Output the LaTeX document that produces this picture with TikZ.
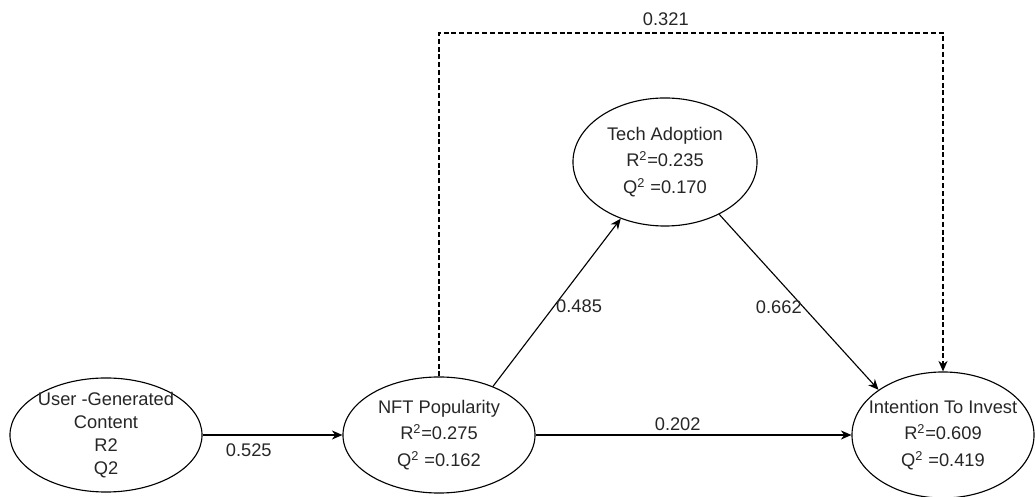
\documentclass[tikz,border=0pt]{standalone}
\usepackage{fontspec}
\setmainfont{Liberation Sans}
\usepackage{xcolor}
\usepackage{tikz}
\usetikzlibrary{arrows.meta, positioning, calc, shapes.geometric}

\begin{document}
\begin{tikzpicture}[
        x=0.025cm, y=-0.025cm,
        latent/.style={draw, ellipse, line width=0.8pt, inner sep=0pt},
        stat/.style={align=center, text=black!85, font=\fontsize{13}{19}\selectfont},
        path/.style={-{Stealth[length=7.5pt, width=6.5pt]}, line width=0.8pt},
        coef/.style={text=black!85, font=\fontsize{13}{16}\selectfont, inner sep=2pt}
    ]
    \useasboundingbox (0,0) rectangle (1035,497);

    % Constructs
    \node[latent, minimum width=4.8cm, minimum height=2.85cm,
        label={[stat, font=\fontsize{13}{16.5}\selectfont]center:User -Generated\\Content\\R2\\Q2}] (ugc) at (106,435) {};
    \node[latent, minimum width=4.8cm, minimum height=2.9cm,
        label={[stat]center:NFT Popularity\\R\textsuperscript{2}=0.275\\Q\textsuperscript{2} =0.162}] (nft) at (439,435) {};
    \node[latent, minimum width=4.6cm, minimum height=3.2cm,
        label={[stat]center:Tech Adoption\\R\textsuperscript{2}=0.235\\Q\textsuperscript{2} =0.170}] (tech) at (665,162) {};
    \node[latent, minimum width=4.55cm, minimum height=3.15cm,
        label={[stat]center:Intention To Invest\\R\textsuperscript{2}=0.609\\Q\textsuperscript{2} =0.419}] (inv) at (943,435) {};

    % Paths
    \draw[path] (ugc.east) -- node[coef, below, pos=0.33, yshift=-4pt] {0.525} (nft.west);
    \draw[path] (nft.east) -- node[coef, above, pos=0.45, yshift=1pt] {0.202} (inv.west);
    \draw[path] (nft.42) -- node[coef, right, pos=0.48, inner sep=1pt] {0.485} (tech.232);
    \draw[path] (tech.-44) -- node[coef, left, pos=0.53, inner sep=1pt] {0.662} (inv.145);

    % Direct effect over the top
    \coordinate (topleft) at ($(nft.north |- 0,33)$);
    \coordinate (topright) at ($(inv.north |- 0,33)$);
    \draw[path, dash pattern=on 3.5pt off 2pt] (nft.north) -- (topleft)
        -- node[coef, above, pos=0.45, yshift=3pt] {0.321} (topright) -- (inv.north);

\end{tikzpicture}
\end{document}
